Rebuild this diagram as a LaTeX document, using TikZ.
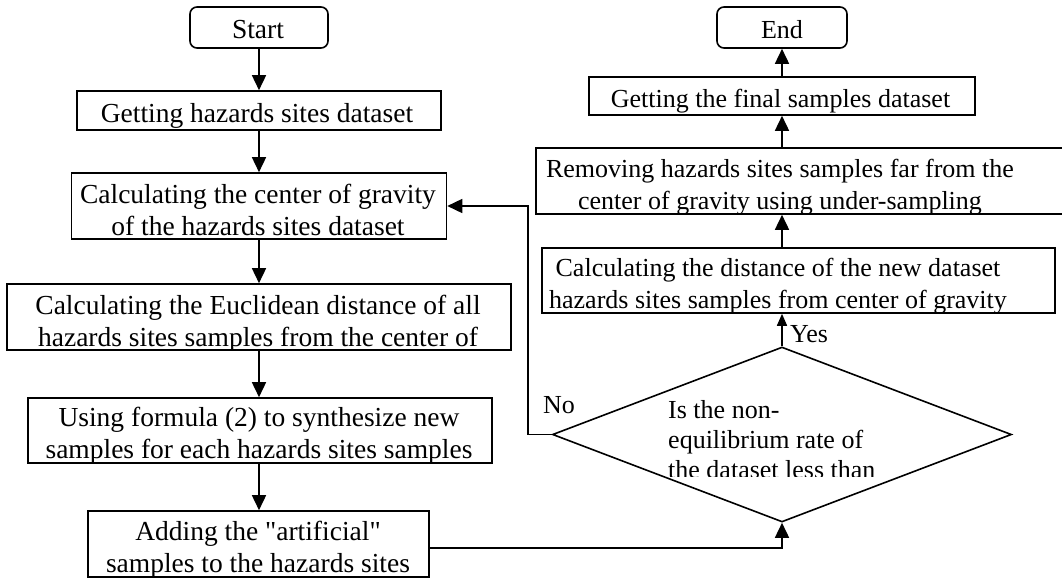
\documentclass[tikz,border=0pt]{standalone}
\usepackage{fontspec}
\setmainfont{Liberation Serif}[Ligatures=TeXOff]
\usetikzlibrary{shapes.geometric,arrows.meta}
\newcommand\boxfont{\fontsize{27.5}{31.5}\selectfont}
\newcommand\rboxfont{\fontsize{26}{31.5}\selectfont}
\newcommand\diafont{\fontsize{26}{30}\selectfont}
\tikzset{
  box/.style={draw, line width=1.6pt, inner sep=0pt},
  term/.style={box, rounded corners=7pt},
  txt/.style={font=\boxfont, align=center, inner sep=0pt, anchor=base},
  rtxt/.style={txt, font=\rboxfont},
  lbl/.style={font=\rboxfont, inner sep=0pt, anchor=base west},
  arr/.style={-{Triangle[length=15pt,width=14pt]}, line width=1.6pt},
  arrs/.style={-{Triangle[length=12pt,width=10pt]}, line width=1.6pt}
}
\begin{document}
\begin{tikzpicture}[x=1pt,y=-1pt]
\useasboundingbox (0,0) rectangle (1062,578);
% left column boxes
\node[term, minimum width=138pt, minimum height=41pt] (start) at (259,27.5) {};
\node[box, minimum width=364pt, minimum height=39pt] (b1) at (259,110.5) {};
\node[box, minimum width=375pt, minimum height=66pt] (b2) at (259,206) {};
\node[box, minimum width=504pt, minimum height=66pt] (b3) at (259,317) {};
\node[box, minimum width=464pt, minimum height=65pt] (b4) at (260,430.5) {};
\node[box, minimum width=341pt, minimum height=66pt] (b5) at (258.5,544) {};
% right column boxes
\node[term, minimum width=130pt, minimum height=41pt] (end) at (782,27.5) {};
\node[box, minimum width=386pt, minimum height=38pt] (r1) at (782,96) {};
\node[box, minimum width=534pt, minimum height=66pt] (r2) at (803,181) {};
\node[box, minimum width=513pt, minimum height=65pt] (r3) at (798.5,280.5) {};
\node[draw, diamond, line width=1.6pt, inner sep=0pt, minimum width=459pt, minimum height=175pt] (dia) at (782,434.5) {};
% texts (base anchor = baseline of the last line)
\node[txt] (ts) at (258,38) {Start};
\node[rtxt] (te) at (782,38) {End};
\begin{scope}\clip (b1.south west) rectangle (b1.north east);
\node[txt] (t1) at (257,122) {Getting hazards sites dataset};\end{scope}
\begin{scope}\clip (b2.south west) rectangle (b2.north east);
\node[txt] (t2) at (258,235) {Calculating the center of gravity\\of the hazards sites dataset};\end{scope}
\begin{scope}\clip (b3.south west) rectangle (b3.north east);
\node[txt] (t3) at (258,346) {Calculating the Euclidean distance of all\\hazards sites samples from the center of};\end{scope}
\begin{scope}\clip (b4.south west) rectangle (b4.north east);
\node[txt] (t4) at (259,458) {Using formula (2) to synthesize new\\samples for each hazards sites samples};\end{scope}
\begin{scope}\clip (b5.south west) rectangle (b5.north east);
\node[txt] (t5) at (258,572) {Adding the "artificial"\\samples to the hazards sites};\end{scope}
\begin{scope}\clip (r1.south west) rectangle (r1.north east);
\node[rtxt] (tr1) at (780.5,107) {Getting the final samples dataset};\end{scope}
\begin{scope}\clip (r2.south west) rectangle (r2.north east);
\node[rtxt] (tr2) at (780,209) {Removing hazards sites samples far from the\\center of gravity using under-sampling};\end{scope}
\begin{scope}\clip (r3.south west) rectangle (r3.north east);
\node[rtxt] (tr3) at (778,308) {Calculating the distance of the new dataset\\hazards sites samples from center of gravity};\end{scope}
\begin{scope}\clip (600,385) rectangle (950,476);
\node[txt, font=\diafont, align=left, anchor=base west] (q) at (668,478) {Is the non-\\equilibrium rate of\\the dataset less than};\end{scope}
\node[lbl] (no) at (543,413) {No};
\node[lbl] (yes) at (790,342) {Yes};
% connectors
\draw[arr] (start.south) -- (start.south |- b1.north);
\draw[arr] (b1.south) -- (b1.south |- b2.north);
\draw[arr] (b2.south) -- (b2.south |- b3.north);
\draw[arr] (b3.south) -- (b3.south |- b4.north);
\draw[arr] (b4.south -| b3.south) -- (b3.south |- b5.north);
\draw[arr] ([yshift=-4pt]b5.east) -| (dia.south);
\draw[arrs] (dia.north) -- (dia.north |- r3.south);
\draw[arr] (r3.north -| end.south) -- (r2.south -| end.south);
\draw[arr] (r2.north -| end.south) -- (r1.south);
\draw[arr] (r1.north) -- (end.south);
\draw[arr] (dia.west) -- ++(-24,0) |- (b2.east);
\end{tikzpicture}
\end{document}
